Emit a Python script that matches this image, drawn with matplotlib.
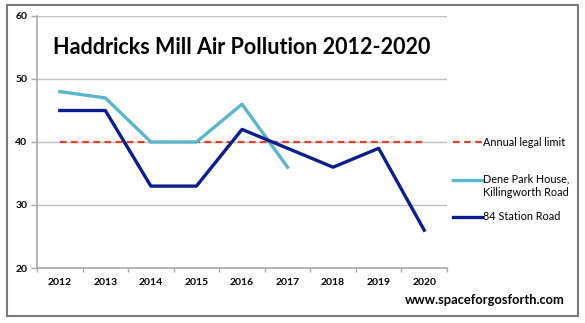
import matplotlib.pyplot as plt
import matplotlib.patches as patches
from matplotlib.lines import Line2D
import numpy as np

years = ['2012', '2013', '2014', '2015', '2016', '2017', '2018', '2019', '2020']
dene_park = [48, 47, 40, 40, 46, 36]
station_road = [45, 45, 33, 33, 42, 39, 36, 39, 26]
legal_limit = 40

plt.rcParams['font.family'] = ['Lato', 'DejaVu Sans']

W, H = 585, 323
fig = plt.figure(figsize=(W/100, H/100), dpi=100)
ax = fig.add_axes([37/W, 55/H, 410/W, 252/H])

limit_style = dict(color='#e0402c', lw=1.6, ls=(0, (3, 2)))
dene_style = dict(color='#5ab6cd', lw=2.4)
station_style = dict(color='#0b1e8c', lw=2.4)

x = np.arange(len(years))
ax.plot(x, [legal_limit]*len(years), zorder=2, **limit_style)
ax.plot(x[:len(dene_park)], dene_park, zorder=3, **dene_style)
ax.plot(x, station_road, zorder=4, **station_style)

ax.set_xlim(-0.5, len(years) - 0.5)
ax.set_ylim(20, 60)
ax.set_yticks([20, 30, 40, 50, 60])
ax.set_xticks(x)
ax.set_xticklabels(years)
ax.set_xticks(np.arange(-0.5, len(years)), minor=True)
ax.tick_params(axis='x', which='major', length=0, pad=7)
ax.tick_params(axis='x', which='minor', length=3, color='#aaaaaa', width=1)
ax.tick_params(axis='y', length=4, color='#aaaaaa', width=1, pad=3)
for lab in ax.get_xticklabels() + ax.get_yticklabels():
    lab.set_fontsize(7.5)
    lab.set_fontweight('bold')

ax.grid(axis='y', color='#c0c0c0', lw=1)
ax.set_axisbelow(True)
for s in ['top', 'right']:
    ax.spines[s].set_visible(False)
for s in ['left', 'bottom']:
    ax.spines[s].set_color('#aaaaaa')
    ax.spines[s].set_linewidth(1.2)

ax.text(0.5, 0.875, 'Haddricks Mill Air Pollution 2012-2020', transform=ax.transAxes,
        ha='center', va='center', fontsize=15.5, fontweight='bold')

# legend drawn by hand (pixel positions, y measured from top)
def px(xp, yp):
    return xp / W, 1 - yp / H

legend_rows = [
    (142, 142, 'Annual legal limit', limit_style),
    (180, 186, 'Dene Park House,\nKillingworth Road', dene_style),
    (217, 217, '84 Station Road', station_style),
]
for y_line, y_text, label, style in legend_rows:
    x0, y0 = px(453, y_line)
    x1, _ = px(482, y_line)
    fig.add_artist(Line2D([x0, x1], [y0, y0], transform=fig.transFigure, **style))
    tx, ty = px(483, y_text)
    fig.text(tx, ty, label, ha='left', va='center', fontsize=7.8, linespacing=1.25)

fig.text(565/W, 1 - 300/H, 'www.spaceforgosforth.com', ha='right', va='center',
         fontsize=9.3, fontweight='bold')

fig.patches.append(patches.Rectangle((7/W, 7/H), 571/W, 311/H,
                                     transform=fig.transFigure, fill=False,
                                     edgecolor='#7a7a7a', lw=1.5))

fig.savefig('out.png', dpi=100)
